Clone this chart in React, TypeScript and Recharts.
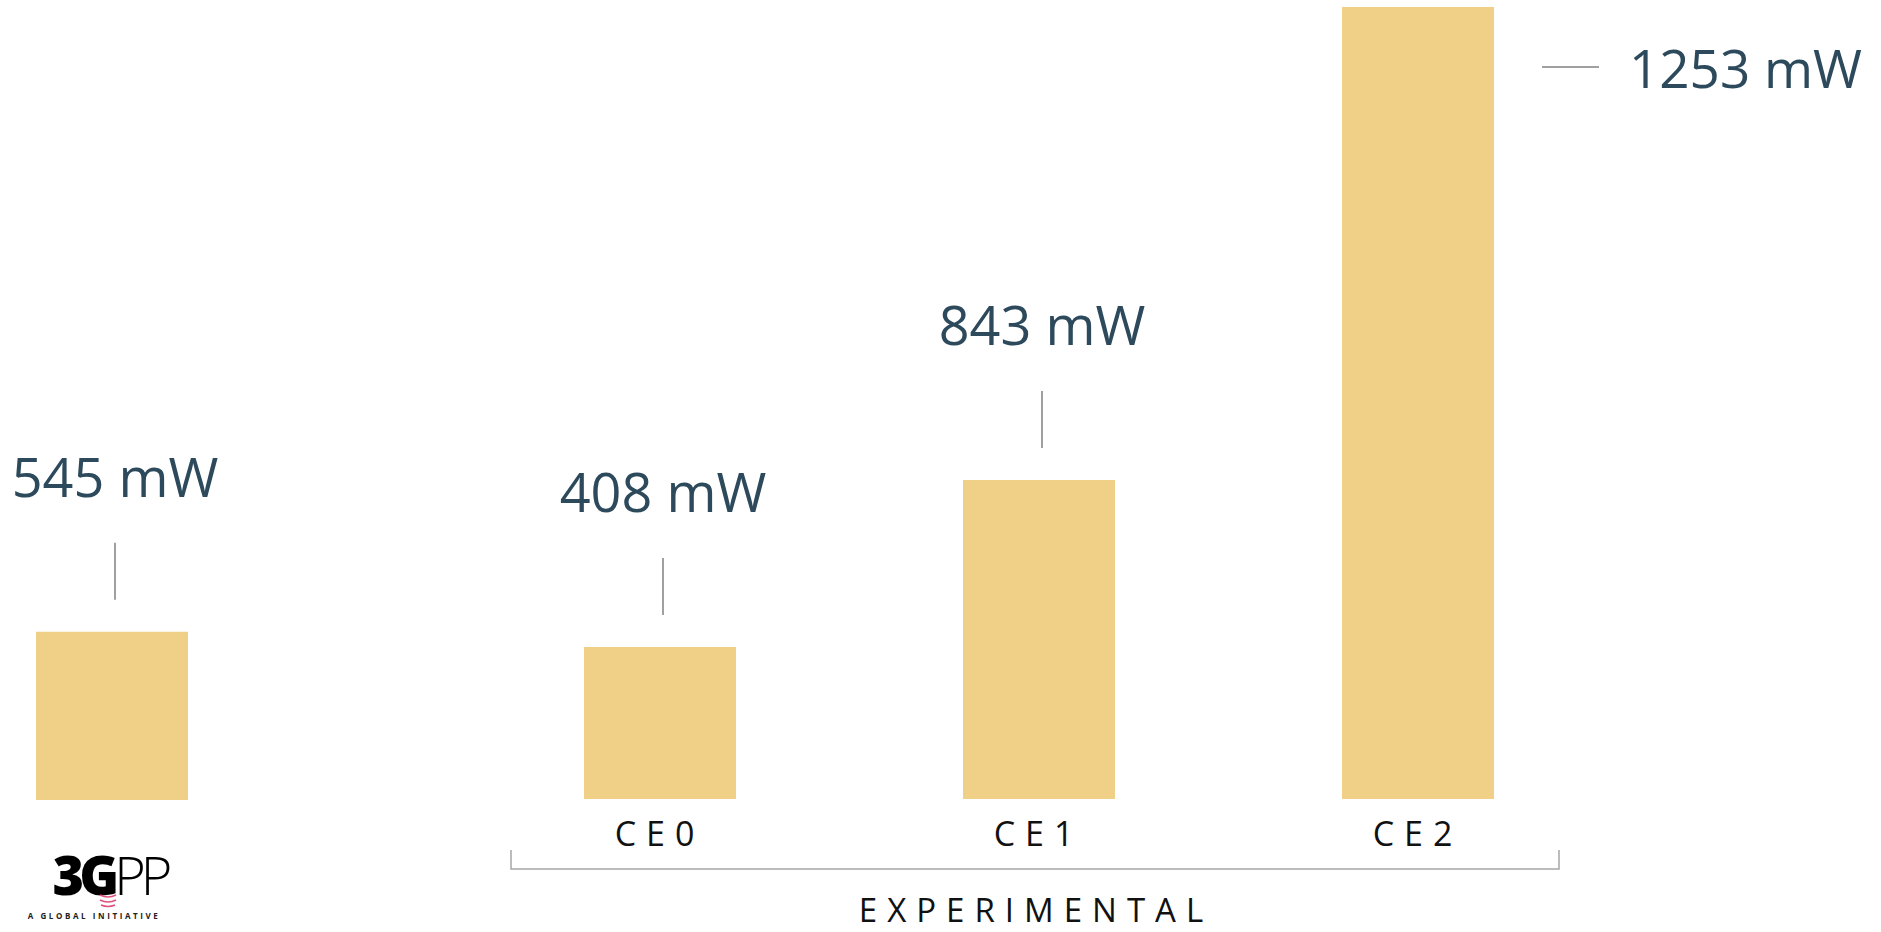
import { Bar, BarChart, LabelList, XAxis, YAxis } from "recharts";

// bar heights as drawn in the picture (the figure is not to scale), plus the printed values
const referenceName = ["3GPP"];
const referenceLevel = [168];
const referenceLabel = ["545 mW"];

const experimentalNames = ["CE0", "CE1", "CE2"];
const experimentalLevel = [152, 319, 792];
const experimentalLabels = ["408 mW", "843 mW", "1253 mW"];

const groupTitle = "EXPERIMENTAL";
const logoText = "3GPP";
const logoTagline = "A GLOBAL INITIATIVE";

const maxLevel = Math.max(...referenceLevel, ...experimentalLevel);

const referenceData = referenceName.map((name, i) => ({
  name,
  level: referenceLevel[i],
  label: referenceLabel[i],
}));

const experimentalData = experimentalNames.map((name, i) => ({
  name,
  level: experimentalLevel[i],
  label: experimentalLabels[i],
}));

const BAR_COLOR = "#f0cf87";
const VALUE_COLOR = "#2d4a5c";
const LEADER_COLOR = "#808080";
const FONT = "'Open Sans', sans-serif";

type LabelProps = {
  x?: number;
  y?: number;
  width?: number;
  value?: string;
};

function ValueLabel({ x = 0, y = 0, width = 0, value }: LabelProps) {
  const cx = x + width / 2;

  // no room above the bar: put the label to the right
  if (y - 135 - 40 < 0) {
    const left = x + width;
    return (
      <g>
        <line
          x1={left + 48}
          x2={left + 105}
          y1={y + 60}
          y2={y + 60}
          stroke={LEADER_COLOR}
          strokeWidth={1.5}
        />
        <text
          x={left + 135}
          y={y + 81}
          fill={VALUE_COLOR}
          fontFamily={FONT}
          fontSize={53}
        >
          {value}
        </text>
      </g>
    );
  }

  return (
    <g>
      <line
        x1={cx + 3}
        x2={cx + 3}
        y1={y - 89}
        y2={y - 32}
        stroke={LEADER_COLOR}
        strokeWidth={1.5}
      />
      <text
        x={cx + 3}
        y={y - 135}
        textAnchor="middle"
        fill={VALUE_COLOR}
        fontFamily={FONT}
        fontSize={54}
      >
        {value}
      </text>
    </g>
  );
}

type TickProps = {
  x?: number;
  payload?: { value: string };
};

function CategoryTick({ x = 0, payload }: TickProps) {
  return (
    <text
      x={x}
      y={846}
      textAnchor="middle"
      fill="#111"
      fontFamily={FONT}
      fontSize={34}
      style={{ letterSpacing: 10 }}
    >
      {payload?.value}
    </text>
  );
}

export default function App() {
  return (
    <div
      style={{
        position: "absolute",
        top: 0,
        left: 0,
        width: 1881,
        height: 932,
        background: "#fff",
        overflow: "hidden",
      }}
    >
      <div style={{ position: "absolute", left: 0, top: 0 }}>
        <BarChart
          width={224}
          height={932}
          data={referenceData}
          margin={{ top: 7, right: 0, bottom: 132, left: 0 }}
        >
          <XAxis dataKey="name" hide />
          <YAxis hide domain={[0, maxLevel]} />
          <Bar
            dataKey="level"
            fill={BAR_COLOR}
            barSize={152}
            isAnimationActive={false}
          >
            <LabelList dataKey="label" content={<ValueLabel />} />
          </Bar>
        </BarChart>
      </div>

      <div style={{ position: "absolute", left: 469.5, top: 0 }}>
        <BarChart
          width={1411}
          height={932}
          data={experimentalData}
          margin={{ top: 7, right: 274, bottom: 0, left: 0 }}
        >
          <XAxis
            dataKey="name"
            height={133}
            axisLine={false}
            tickLine={false}
            tick={<CategoryTick />}
            interval={0}
          />
          <YAxis hide domain={[0, maxLevel]} />
          <Bar
            dataKey="level"
            fill={BAR_COLOR}
            barSize={152}
            isAnimationActive={false}
          >
            <LabelList dataKey="label" content={<ValueLabel />} />
          </Bar>
        </BarChart>
      </div>

      <svg
        width={1881}
        height={932}
        style={{ position: "absolute", left: 0, top: 0, pointerEvents: "none" }}
      >
        <polyline
          points="511,850 511,869 1559,869 1559,850"
          fill="none"
          stroke="#a6a6a6"
          strokeWidth={1.5}
        />
        <text
          x={1036}
          y={922}
          textAnchor="middle"
          fill="#111"
          fontFamily={FONT}
          fontSize={33}
          style={{ letterSpacing: 10 }}
        >
          {groupTitle}
        </text>

        {/* logo */}
        <text
          x={110}
          y={895}
          textAnchor="middle"
          fill="#000"
          fontFamily={FONT}
          fontSize={54}
          style={{ letterSpacing: -5 }}
        >
          <tspan fontWeight={800}>{logoText.slice(0, 2)}</tspan>
          <tspan fontWeight={300}>{logoText.slice(2)}</tspan>
        </text>
        <path
          d="M100,895 q8,4 16,0 M100,900 q8,4 16,0 M101,905 q7,3 14,0"
          fill="none"
          stroke="#e0507a"
          strokeWidth={1.6}
        />
        <text
          x={94}
          y={919}
          textAnchor="middle"
          fill="#222"
          fontFamily={FONT}
          fontSize={8}
          fontWeight={700}
          style={{ letterSpacing: 2.6 }}
        >
          {logoTagline}
        </text>
      </svg>
    </div>
  );
}
